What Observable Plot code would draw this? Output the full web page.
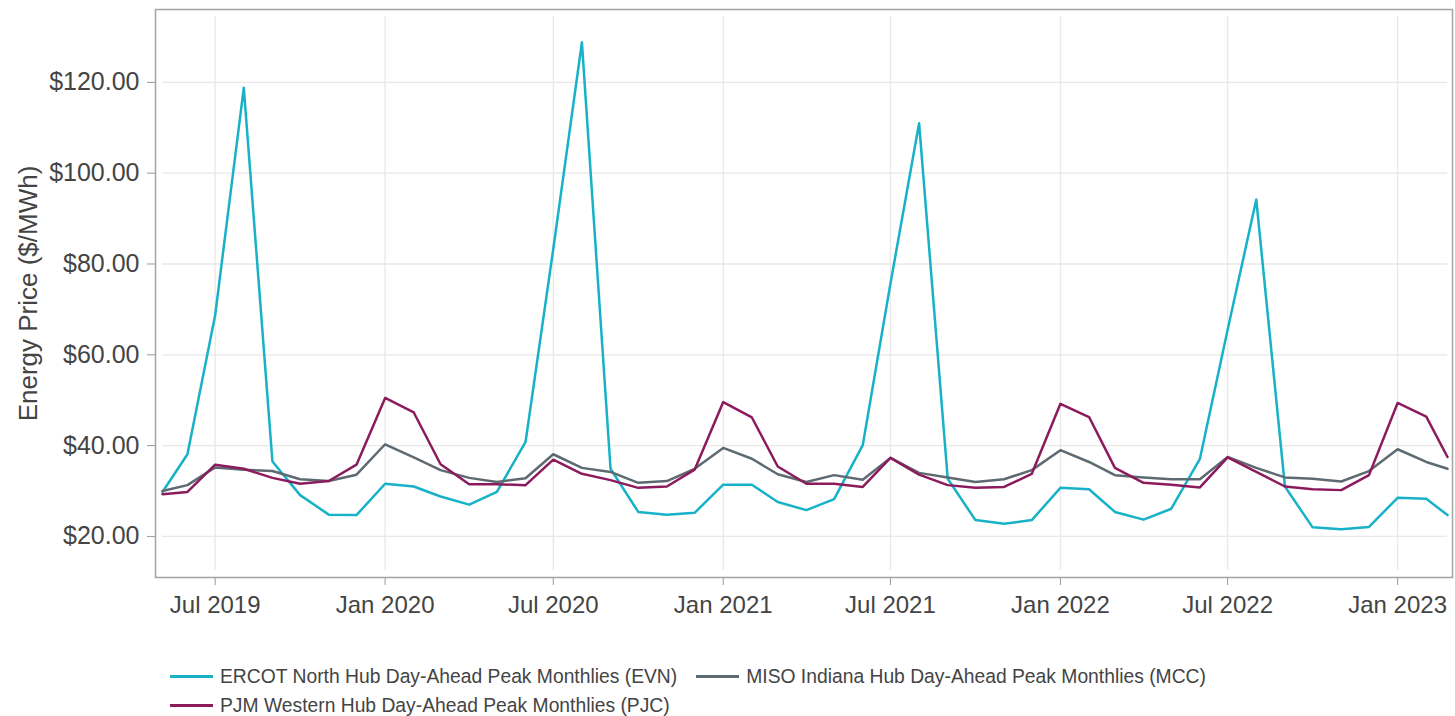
<!DOCTYPE html>
<html>
<head>
<meta charset="utf-8">
<script src="https://cdn.jsdelivr.net/npm/d3@7"></script>
<script src="https://cdn.jsdelivr.net/npm/@observablehq/plot@0.6"></script>
<style>
  html, body { margin: 0; padding: 0; background: #fff; }
  body { width: 1455px; height: 716px; overflow: hidden; font-family: "Liberation Sans", Arial, sans-serif; }
  #legend { position: relative; padding-left: 170px; padding-top: 22px; width: 1070px; display: flex; flex-wrap: wrap; column-gap: 19px; font-size: 19.3px; line-height: 29px; color: #444; }
  .item { display: flex; align-items: center; white-space: nowrap; }
  .sw { width: 43px; height: 3px; margin-right: 7px; }
</style>
</head>
<body>
<div id="chart"></div>
<div id="legend"></div>
<script>
// ---- data ----
const dates = [
  "2019-05-05","2019-06-01","2019-07-01","2019-08-01","2019-09-01","2019-10-01","2019-11-01","2019-12-01",
  "2020-01-01","2020-02-01","2020-03-01","2020-04-01","2020-05-01","2020-06-01","2020-07-01","2020-08-01","2020-09-01","2020-10-01","2020-11-01","2020-12-01",
  "2021-01-01","2021-02-01","2021-03-01","2021-04-01","2021-05-01","2021-06-01","2021-07-01","2021-08-01","2021-09-01","2021-10-01","2021-11-01","2021-12-01",
  "2022-01-01","2022-02-01","2022-03-01","2022-04-01","2022-05-01","2022-06-01","2022-07-01","2022-08-01","2022-09-01","2022-10-01","2022-11-01","2022-12-01",
  "2023-01-01","2023-02-01","2023-02-24"
];
const evn = [
  29.8, 38.1, 68.7, 118.8, 36.5, 29.1, 24.8, 24.7,
  31.6, 31.0, 28.8, 27.0, 29.8, 40.8, 83.3, 128.8, 34.9, 25.4, 24.8, 25.2,
  31.4, 31.4, 27.6, 25.8, 28.2, 40.1, 75.7, 111.0, 32.7, 23.6, 22.8, 23.6,
  30.7, 30.4, 25.4, 23.7, 26.1, 37.1, 65.5, 94.2, 31.0, 22.0, 21.6, 22.1,
  28.5, 28.3, 24.7
];
const mcc = [
  30.0, 31.3, 35.2, 34.7, 34.4, 32.6, 32.2, 33.6,
  40.3, 37.4, 34.6, 32.9, 32.0, 32.8, 38.1, 35.1, 34.2, 31.8, 32.2, 34.9,
  39.5, 37.1, 33.7, 32.0, 33.5, 32.5, 37.3, 34.0, 33.0, 32.0, 32.6, 34.6,
  39.0, 36.4, 33.5, 33.0, 32.6, 32.6, 37.5, 35.1, 33.0, 32.7, 32.1, 34.4,
  39.2, 36.4, 34.9
];
const pjc = [
  29.3, 29.8, 35.8, 34.9, 32.9, 31.6, 32.2, 35.8,
  50.5, 47.3, 35.9, 31.5, 31.5, 31.3, 36.9, 33.8, 32.4, 30.7, 31.0, 34.7,
  49.6, 46.2, 35.4, 31.6, 31.6, 30.9, 37.3, 33.6, 31.3, 30.7, 30.9, 33.8,
  49.2, 46.3, 35.1, 31.8, 31.4, 30.8, 37.4, 34.2, 31.0, 30.4, 30.2, 33.5,
  49.4, 46.4, 37.5
];
const seriesNames = [
  "ERCOT North Hub Day-Ahead Peak Monthlies (EVN)",
  "MISO Indiana Hub Day-Ahead Peak Monthlies (MCC)",
  "PJM Western Hub Day-Ahead Peak Monthlies (PJC)"
];
const seriesColors = ["#17b2c8", "#5e6a72", "#8c1b5e"];
const yTicks = [20, 40, 60, 80, 100, 120];
const xTickDates = ["2019-07-01","2020-01-01","2020-07-01","2021-01-01","2021-07-01","2022-01-01","2022-07-01","2023-01-01"];
const yLabel = "Energy Price ($/MWh)";

// ---- build table ----
const parsed = dates.map(d => new Date(d + "T00:00:00Z"));
const valuesBySeries = [evn, mcc, pjc];
const rows = [];
seriesNames.forEach((name, s) => {
  valuesBySeries[s].forEach((v, i) => rows.push({date: parsed[i], value: v, series: name}));
});
const xTicks = xTickDates.map(d => new Date(d + "T00:00:00Z"));
const monthFmt = d3.utcFormat("%b %Y");

const chart = Plot.plot({
  width: 1455,
  height: 640,
  marginLeft: 155,
  marginRight: 3,
  marginTop: 9,
  marginBottom: 63,
  style: {fontFamily: "'Liberation Sans', Arial, sans-serif", color: "#444", background: "#fff"},
  x: {type: "utc", domain: [parsed[0], parsed[parsed.length - 1]], insetLeft: 7, insetRight: 5},
  y: {domain: [12.5, 134.5], insetTop: 7, insetBottom: 7},
  color: {domain: seriesNames, range: seriesColors},
  marks: [
    Plot.gridY(yTicks, {stroke: "#e8e8e8", strokeOpacity: 1, strokeWidth: 1.3, insetLeft: 7, insetRight: 5}),
    Plot.gridX(xTicks, {stroke: "#e8e8e8", strokeOpacity: 1, strokeWidth: 1.3, insetTop: 7, insetBottom: 7}),
    Plot.frame({stroke: "#a3a3a3", strokeWidth: 1.5}),
    Plot.axisY(yTicks, {
      tickSize: 8, tickPadding: 8, fontSize: 25, stroke: "#999", fill: "#444",
      tickFormat: d => "$" + d3.format(".2f")(d),
      label: null
    }),
    Plot.text([yLabel], {frameAnchor: "left", textAnchor: "middle", lineAnchor: "middle", rotate: -90, dx: -127, fontSize: 26, fill: "#444"}),
    Plot.axisX(xTicks, {
      tickSize: 8, tickPadding: 10, fontSize: 24, stroke: "#999", fill: "#444",
      tickFormat: d => monthFmt(d), label: null
    }),
    Plot.line(rows, {x: "date", y: "value", z: "series", stroke: "series", strokeWidth: 2.5})
  ]
});
document.getElementById("chart").appendChild(chart);

// ---- legend ----
const legend = document.getElementById("legend");
seriesNames.forEach((name, i) => {
  const item = document.createElement("div");
  item.className = "item";
  const sw = document.createElement("span");
  sw.className = "sw";
  sw.style.background = seriesColors[i];
  const t = document.createElement("span");
  t.textContent = name;
  item.appendChild(sw);
  item.appendChild(t);
  legend.appendChild(item);
});
</script>
</body>
</html>
